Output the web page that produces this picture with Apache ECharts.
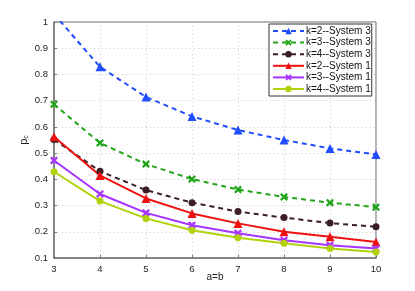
<!DOCTYPE html>
<html><head><meta charset="utf-8">
<script src="https://cdn.jsdelivr.net/npm/echarts@6/dist/echarts.min.js"></script>
<style>html,body{margin:0;padding:0;background:#fff}#c{width:415px;height:291px}</style>
</head><body><div id="c"></div>
<script>
const categories = [3, 4, 5, 6, 7, 8, 9, 10];
const k2sys3 = [1.03, 0.829, 0.714, 0.640, 0.588, 0.550, 0.518, 0.495];
const k3sys3 = [0.686, 0.539, 0.458, 0.401, 0.361, 0.333, 0.311, 0.294];
const k4sys3 = [0.552, 0.431, 0.359, 0.311, 0.277, 0.254, 0.233, 0.219];
const k2sys1 = [0.562, 0.415, 0.327, 0.270, 0.232, 0.200, 0.181, 0.161];
const k3sys1 = [0.472, 0.344, 0.272, 0.225, 0.194, 0.168, 0.149, 0.136];
const k4sys1 = [0.429, 0.317, 0.251, 0.206, 0.177, 0.156, 0.136, 0.123];
const seriesNames = ['k=2--System 3','k=3--System 3','k=4--System 3','k=2--System 1','k=3--System 1','k=4--System 1'];
const yTicks = [0.1,0.2,0.3,0.4,0.5,0.6,0.7,0.8,0.9,1];

const X = 'path://M2,0L5,3L8,0L10,2L7,5L10,8L8,10L5,7L2,10L0,8L3,5L0,2Z';
function mk(name, vals, color, sym, size, dashed){
  return {
    name, type:'line', data: categories.map((c,i)=>[c, vals[i]]),
    symbol: sym, symbolSize: size, showSymbol:true, clip:true,
    lineStyle:{color, width:2, type: dashed ? [5,4] : 'solid'},
    itemStyle:{color},
    emphasis:{disabled:true}
  };
}
const chart = echarts.init(document.getElementById('c'), null, {renderer:'canvas'});
const font = 'Liberation Sans, Arial, sans-serif';
chart.setOption({
  animation:false,
  textStyle:{fontFamily:font},
  grid:{left:54, right:39, top:22, bottom:33, show:true, borderColor:'#666', borderWidth:1, backgroundColor:'#fff'},
  legend:{
    data: seriesNames, orient:'vertical', left:269, top:24,
    itemWidth:31, itemHeight:8, itemGap:1.6,
    padding:[2,1,2,3],
    backgroundColor:'#fff', borderColor:'#333', borderWidth:1,
    textStyle:{fontFamily:font, fontSize:10, color:'#111', padding:[0,0,0,-3]},
    selectedMode:false
  },
  xAxis:{
    type:'value', min:3, max:10, interval:1,
    name:'a=b', nameLocation:'middle', nameGap:14, nameMoveOverlap:false,
    nameTextStyle:{fontSize:10, color:'#222', fontFamily:font},
    axisLine:{lineStyle:{color:'#777', width:1.5}},
    axisTick:{inside:true, length:3, lineStyle:{color:'#777'}},
    axisLabel:{fontSize:9.5, color:'#222', margin:6, fontFamily:font},
    splitLine:{show:true, lineStyle:{color:'#c8c8c8', type:[1,3], width:1}}
  },
  yAxis:{
    type:'value', min:0.1, max:1, interval:0.1,
    name:'{p|p}{c|c}', nameLocation:'middle', nameGap:24, nameRotate:90, nameMoveOverlap:false,
    nameTextStyle:{fontSize:10, color:'#222', fontFamily:font,
      rich:{p:{fontSize:11, color:'#222', fontFamily:font}, c:{fontSize:7, color:'#222', fontFamily:font, padding:[5,0,0,0]}}},
    axisLine:{show:true, lineStyle:{color:'#777', width:1.5}},
    axisTick:{show:true, inside:true, length:3, lineStyle:{color:'#777'}},
    axisLabel:{fontSize:9.5, color:'#222', margin:6, fontFamily:font,
      formatter:v=>{const r=Math.round(v*10)/10; return r===1?'1':r.toFixed(1);}},
    splitLine:{show:true, lineStyle:{color:'#c8c8c8', type:[1,3], width:1}}
  },
  series:[
    mk(seriesNames[0], k2sys3, '#1f4dff', 'triangle', 9, true),
    mk(seriesNames[1], k3sys3, '#22a51a', X, 8, true),
    mk(seriesNames[2], k4sys3, '#3b1f26', 'circle', 7, true),
    mk(seriesNames[3], k2sys1, '#ee1111', 'triangle', 9, false),
    mk(seriesNames[4], k3sys1, '#a733ff', X, 8, false),
    mk(seriesNames[5], k4sys1, '#b2d10a', 'circle', 7, false)
  ]
});
</script></body></html>
